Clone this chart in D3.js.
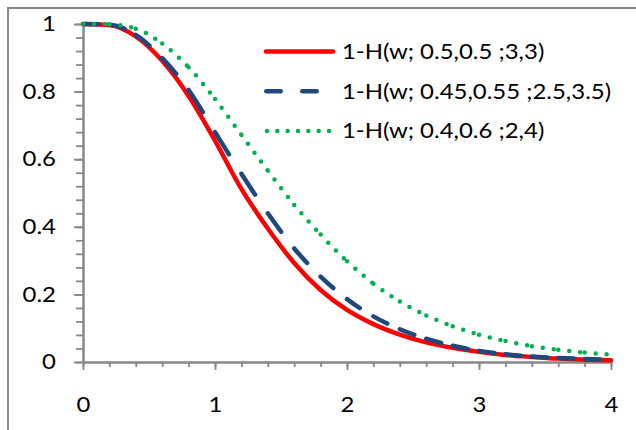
<!DOCTYPE html>
<html>
<head>
<meta charset="utf-8">
<script src="https://cdn.jsdelivr.net/npm/d3@7"></script>
<style>
	body { margin: 0; background: #fff; }
	svg { display: block; }
	text { font-family: Lato, "Open Sans", sans-serif; fill: #000; }
</style>
</head>
<body>
<svg id="chart" width="636" height="430"></svg>
<script>
var wValues = [0, 0.2, 0.4, 0.6, 0.8, 1.0, 1.2, 1.4, 1.6, 1.8, 2.0, 2.2, 2.4, 2.6, 2.8, 3.0, 3.2, 3.4, 3.6, 3.8, 4.0];

// 1-H(w; 0.5,0.5 ;3,3)
var survA = [1, 0.997, 0.963, 0.891, 0.787, 0.655, 0.512, 0.395, 0.293, 0.213, 0.154, 0.112, 0.081, 0.058, 0.042, 0.030, 0.021, 0.015, 0.010, 0.007, 0.005];
// 1-H(w; 0.45,0.55 ;2.5,3.5)
var survB = [1, 0.998, 0.968, 0.899, 0.805, 0.680, 0.557, 0.440, 0.336, 0.253, 0.186, 0.135, 0.097, 0.069, 0.048, 0.033, 0.023, 0.016, 0.012, 0.009, 0.007];
// 1-H(w; 0.4,0.6 ;2,4)
var survC = [1, 0.999, 0.986, 0.942, 0.872, 0.778, 0.672, 0.566, 0.465, 0.377, 0.298, 0.232, 0.179, 0.138, 0.106, 0.081, 0.062, 0.047, 0.036, 0.028, 0.022];

var seriesNames = ['1-H(w; 0.5,0.5 ;3,3)', '1-H(w; 0.45,0.55 ;2.5,3.5)', '1-H(w; 0.4,0.6 ;2,4)'];

var xTickValues = [0, 1, 2, 3, 4];
var xTickLabels = ['0', '1', '2', '3', '4'];
var yTickValues = [0, 0.2, 0.4, 0.6, 0.8, 1];
var yTickLabels = ['0', '0.2', '0.4', '0.6', '0.8', '1'];

var svg = d3.select('#chart'),
	axisColor = '#878787',
	fontSize = 21,
	stretch = 1.14; // the source picture's text is a bit wider than Lato

var x = d3.scaleLinear().domain([0, 4]).range([83, 611]),
	y = d3.scaleLinear().domain([0, 1]).range([362, 24]);

// chart area border (only the top and left edges are in the frame)
svg.append('path')
	.attr('d', 'M8,431V8H637')
	.attr('fill', 'none')
	.attr('stroke', axisColor)
	.attr('stroke-width', 2);

function styleAxis(g) {
	g.select('.domain').attr('stroke', axisColor).attr('stroke-width', 2);
	g.selectAll('.tick line').attr('stroke', axisColor).attr('stroke-width', 1.8);
	g.selectAll('text')
		.attr('font-size', fontSize)
		.attr('font-family', 'Lato, sans-serif')
		.attr('fill', '#000')
		.attr('x', function() { return (+this.getAttribute('x') || 0) / stretch; })
		.attr('transform', 'scale(' + stretch + ',1)');
}

// minor ticks
svg.append('g')
	.attr('transform', 'translate(' + x(0) + ',0)')
	.call(d3.axisLeft(y).tickValues(d3.range(0, 1.001, 0.04)).tickSize(7).tickSizeOuter(0).tickFormat(''))
	.call(styleAxis);
svg.append('g')
	.attr('transform', 'translate(0,' + y(0) + ')')
	.call(d3.axisBottom(x).tickValues(d3.range(0, 4.001, 0.2)).tickSize(5).tickSizeOuter(0).tickFormat(''))
	.call(styleAxis);

// major ticks + labels
svg.append('g')
	.attr('transform', 'translate(' + x(0) + ',0)')
	.call(d3.axisLeft(y).tickValues(yTickValues).tickSize(9).tickPadding(18).tickSizeOuter(0)
		.tickFormat(function(d, i) { return yTickLabels[i]; }))
	.call(styleAxis);
svg.append('g')
	.attr('transform', 'translate(0,' + y(0) + ')')
	.call(d3.axisBottom(x).tickValues(xTickValues).tickSize(8).tickPadding(27).tickSizeOuter(0)
		.tickFormat(function(d, i) { return xTickLabels[i]; }))
	.call(styleAxis);

// lengths along a path at each data point, so the dash pattern can restart there (as Excel does)
function lengthsAt(node, xs) {
	var total = node.getTotalLength();
	return xs.map(function(px, i) {
		if (i === 0) return 0;
		if (i === xs.length - 1) return total;
		var lo = 0, hi = total;
		for (var k = 0; k < 28; k++) {
			var mid = (lo + hi) / 2;
			if (node.getPointAtLength(mid).x < px) lo = mid; else hi = mid;
		}
		return (lo + hi) / 2;
	});
}

function restartDashes(lens, pattern) {
	var out = [];
	for (var i = 0; i < lens.length - 1; i++) {
		var s = lens[i + 1] - lens[i], pos = 0, dg = pattern(s);
		while (pos < s - 0.01) {
			var d = Math.min(dg[0], s - pos); pos += d;
			var g = Math.min(dg[1], s - pos); pos += g;
			out.push(d.toFixed(2), g.toFixed(2));
		}
	}
	return out.join(' ');
}

var series = [
	{ name: seriesNames[0], values: survA, color: '#ff0000', kind: 'solid' },
	{ name: seriesNames[1], values: survB, color: '#1f497d', kind: 'dash' },
	{ name: seriesNames[2], values: survC, color: '#00b050', kind: 'dot' }
];

var dashPattern = function(s) {
	var d = Math.max(15.5, 0.62 * s - 4.5);
	return [d, Math.max(s - d, 0.5)];
};
var dotPattern = function() { return [0, 11]; };

var line = d3.line()
	.x(function(d) { return x(d[0]); })
	.y(function(d) { return y(d[1]); })
	.curve(d3.curveMonotoneX);

series.forEach(function(s) {
	var pts = wValues.map(function(w, i) { return [w, s.values[i]]; });
	var p = svg.append('path')
		.attr('d', line(pts))
		.attr('fill', 'none')
		.attr('stroke', s.color)
		.attr('stroke-width', 4.5)
		.attr('stroke-linecap', 'round')
		.attr('stroke-linejoin', 'round');
	if (s.kind !== 'solid') {
		var lens = lengthsAt(p.node(), pts.map(function(d) { return x(d[0]); }));
		p.attr('stroke-dasharray', restartDashes(lens, s.kind === 'dash' ? dashPattern : dotPattern));
	}
});

// legend
var legend = svg.append('g');
series.forEach(function(s, i) {
	var ly = 51.5 + i * 39.7;
	var x0 = s.kind === 'dash' ? 266.25 : (s.kind === 'dot' ? 267 : 266);
	legend.append('line')
		.attr('x1', x0).attr('x2', s.kind === 'dot' ? 330 : 333)
		.attr('y1', ly).attr('y2', ly)
		.attr('stroke', s.color)
		.attr('stroke-width', 4.5)
		.attr('stroke-linecap', 'round')
		.attr('stroke-dasharray', s.kind === 'dash' ? '14.5 21.5' : (s.kind === 'dot' ? '0 10.33' : null));
	legend.append('text')
		.attr('transform', 'translate(342,' + ly + ') scale(' + stretch + ',1)')
		.attr('dy', '0.36em')
		.attr('font-size', fontSize)
		.text(s.name);
});
</script>
</body>
</html>
